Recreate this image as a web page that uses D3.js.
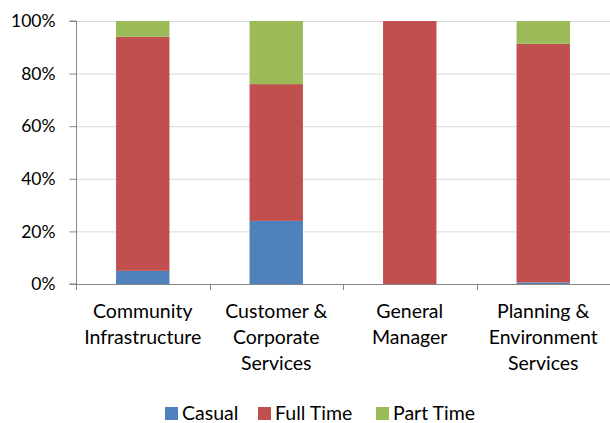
<!DOCTYPE html>
<html>
<head>
<meta charset="utf-8">
<script src="https://cdn.jsdelivr.net/npm/d3@7"></script>
<style>
  body { margin: 0; background: #fff; }
  text { font-family: Lato, "Open Sans", sans-serif; fill: #000; }
</style>
</head>
<body>
<script>
// data (percent of staff per division)
var divisions = [["Community", "Infrastructure"], ["Customer &", "Corporate", "Services"], ["General", "Manager"], ["Planning &", "Environment", "Services"]];
var casual   = [5, 24, 0, 0.6];
var fullTime = [89, 52, 100, 90.7];
var partTime = [6, 24, 0, 8.7];
var seriesNames = ["Casual", "Full Time", "Part Time"];
var yTicks = [0, 20, 40, 60, 80, 100];

var colors = {"Casual": "#4F81BD", "Full Time": "#C0504D", "Part Time": "#9BBB59"};

const width = 610;
const height = 423;
const marginLeft = 76;
const marginRight = 0;
const marginTop = 21;
const marginBottom = 139;

var rows = divisions.map((d, i) => ({
    key: d.join(" "),
    lines: d,
    "Casual": casual[i],
    "Full Time": fullTime[i],
    "Part Time": partTime[i]
}));

const x = d3.scaleBand()
    .domain(rows.map(d => d.key))
    .range([marginLeft, width - marginRight])
    .paddingInner(0.6)
    .paddingOuter(0.3);

const y = d3.scaleLinear()
    .domain([0, 100])
    .range([height - marginBottom, marginTop]);

const stack = d3.stack().keys(seriesNames)(rows);

const svg = d3.select("body").append("svg")
    .attr("width", width)
    .attr("height", height);

// gridlines
svg.append("g")
    .selectAll("line")
    .data(yTicks.slice(1))
    .join("line")
    .attr("x1", marginLeft)
    .attr("x2", width)
    .attr("y1", d => y(d) + 0.5)
    .attr("y2", d => y(d) + 0.5)
    .attr("stroke", "#d9d9d9")
    .attr("stroke-width", 1);

// bars
svg.append("g")
    .selectAll("g")
    .data(stack)
    .join("g")
    .attr("fill", d => colors[d.key])
    .selectAll("rect")
    .data(d => d)
    .join("rect")
    .attr("x", d => x(d.data.key))
    .attr("width", x.bandwidth())
    .attr("y", d => y(d[1]))
    .attr("height", d => y(d[0]) - y(d[1]));

// y axis
const yAxis = svg.append("g")
    .attr("transform", `translate(${marginLeft + 0.5},0)`)
    .call(d3.axisLeft(y).tickValues(yTicks).tickFormat(d => d + "%").tickSize(7).tickPadding(14));
yAxis.select(".domain").attr("stroke", "#868686").attr("d", `M-7,${y(0)}H0V${y(100)}H-7`);
yAxis.selectAll(".tick line").attr("stroke", "#868686");
yAxis.selectAll(".tick text").attr("font-size", 17.5).style("font-family", "Lato, sans-serif");

// x axis line and category separators
var seps = d3.range(rows.length + 1).map(i => marginLeft + i * (width - marginLeft) / rows.length);
svg.append("line")
    .attr("x1", marginLeft)
    .attr("x2", width)
    .attr("y1", y(0) + 0.5)
    .attr("y2", y(0) + 0.5)
    .attr("stroke", "#868686");
svg.append("g")
    .selectAll("line")
    .data(seps)
    .join("line")
    .attr("x1", d => Math.round(d) + 0.5)
    .attr("x2", d => Math.round(d) + 0.5)
    .attr("y1", y(0))
    .attr("y2", y(0) + 6)
    .attr("stroke", "#868686");

// category labels
svg.append("g")
    .selectAll("text")
    .data(rows)
    .join("text")
    .attr("text-anchor", "middle")
    .attr("font-size", 19.5)
    .attr("x", d => x(d.key) + x.bandwidth() / 2)
    .attr("y", 318)
    .selectAll("tspan")
    .data(d => d.lines)
    .join("tspan")
    .attr("x", function() { return d3.select(this.parentNode).attr("x"); })
    .attr("dy", (d, i) => i === 0 ? 0 : 26)
    .text(d => d);

// legend
var legendX = [165, 258, 376];
const legend = svg.append("g")
    .selectAll("g")
    .data(seriesNames)
    .join("g")
    .attr("transform", (d, i) => `translate(${legendX[i]},407)`);
legend.append("rect")
    .attr("width", 13)
    .attr("height", 13)
    .attr("fill", d => colors[d]);
legend.append("text")
    .attr("x", 17)
    .attr("y", 13)
    .attr("font-size", 19.5)
    .text(d => d);
</script>
</body>
</html>
